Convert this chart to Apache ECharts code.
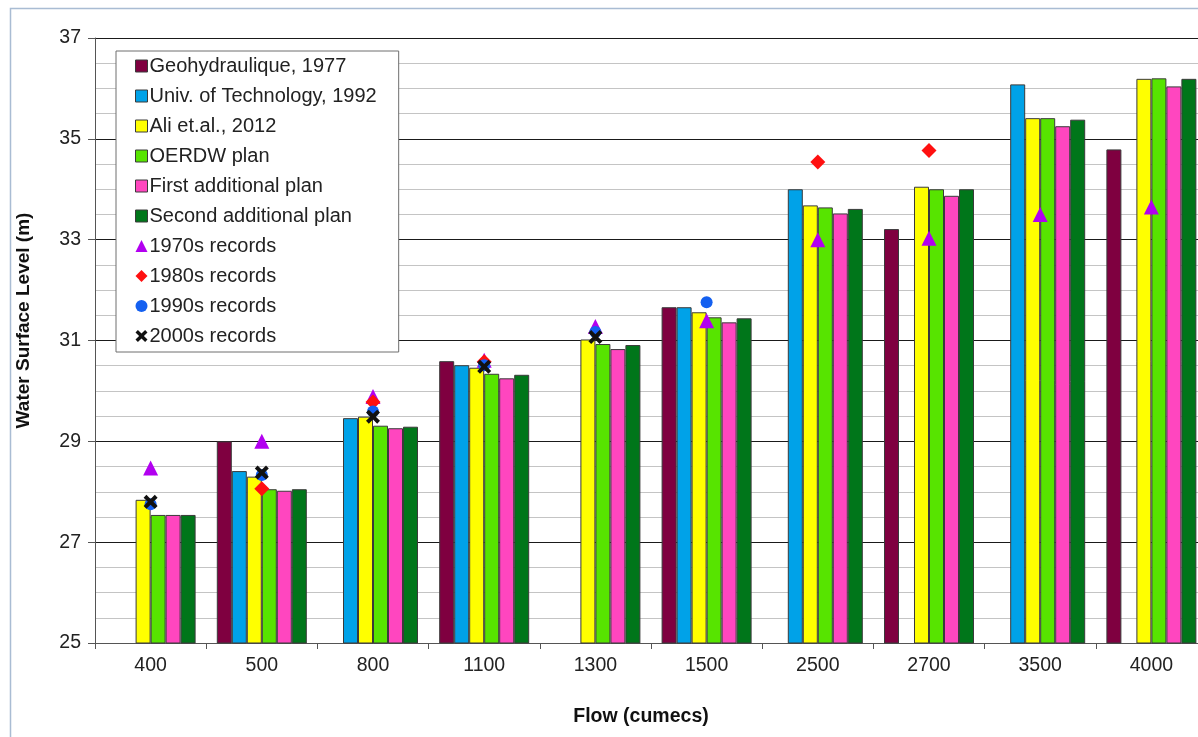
<!DOCTYPE html>
<html>
<head>
<meta charset="utf-8">
<script src="https://cdn.jsdelivr.net/npm/echarts@6/dist/echarts.min.js"></script>
<style>
html,body{margin:0;padding:0;background:#fff;overflow:hidden;width:1198px;height:737px;}
#main{width:1210px;height:737px;}
</style>
</head>
<body>
<div id="main"></div>
<script>
var categories = ['400','500','800','1100','1300','1500','2500','2700','3500','4000'];
var geo1977   = [null, 29.0, null, 30.59, null, 31.66, null, 33.21, null, 34.79];
var univ1992  = [null, 28.41, 29.46, 30.51, null, 31.66, 34.0, null, 36.08, null];
var ali2012   = [27.84, 28.30, 29.49, 30.46, 31.02, 31.56, 33.68, 34.05, 35.41, 36.19];
var oerdw     = [27.54, 28.05, 29.31, 30.34, 30.93, 31.46, 33.64, 34.0, 35.41, 36.2];
var firstPlan = [27.54, 28.02, 29.26, 30.25, 30.83, 31.36, 33.52, 33.87, 35.25, 36.04];
var secondPlan= [27.54, 28.05, 29.29, 30.32, 30.91, 31.44, 33.61, 34.0, 35.38, 36.19];
var rec1970 = [28.47, 29.0, 29.89, 30.61, 31.28, 31.39, 33.0, 33.03, 33.5, 33.65];
var rec1980 = [null, 28.06, 29.78, 30.58, null, null, 34.54, 34.77, null, null];
var rec1990 = [27.75, 28.33, 29.59, 30.51, 31.17, 31.76, null, null, null, null];
var rec2000 = [27.8, 28.38, 29.49, 30.48, 31.07, null, null, null, null, null];

var FONT = '"Liberation Sans", Arial, sans-serif';
var xPath = 'path://M0,2 L2,0 L5,3 L8,0 L10,2 L7,5 L10,8 L8,10 L5,7 L2,10 L0,8 L3,5 Z';

function barSeries(name, data, color) {
  return {
    name: name, type: 'bar', data: data, barWidth: 15, barGap: '0%',
    itemStyle: { color: color, borderColor: '#3a3a3a', borderWidth: 1 },
    emphasis: { disabled: true }
  };
}
function scatterSeries(name, data, color, symbol, size) {
  return {
    name: name, type: 'scatter', data: data, symbol: symbol, symbolSize: size,
    itemStyle: { color: color, opacity: 1 }, z: 5,
    emphasis: { disabled: true }
  };
}
var legBar = { borderColor: '#3a3a3a', borderWidth: 1 };

var chart = echarts.init(document.getElementById('main'), null, { renderer: 'canvas' });
chart.setOption({
  animation: false,
  backgroundColor: '#ffffff',
  textStyle: { fontFamily: FONT },
  graphic: [{
    type: 'rect', left: 8, top: 6, shape: { width: 1300, height: 800 },
    style: { fill: 'none', stroke: '#a9bcd3', lineWidth: 1.5 }, silent: true, z: -10
  }],
  grid: { left: 95, top: 38, right: 3, bottom: 94, containLabel: false },
  legend: {
    orient: 'vertical', left: 116, top: 51,
    backgroundColor: '#ffffff', borderColor: '#6e6e6e', borderWidth: 1,
    padding: [5, 22, 6, 19], itemGap: 10, itemWidth: 12, itemHeight: 12,
    textStyle: { fontFamily: FONT, fontSize: 20, color: '#222', lineHeight: 20, padding: [0, 0, 0, -3] },
    data: [
      { name: 'Geohydraulique, 1977', icon: 'rect', itemStyle: legBar },
      { name: 'Univ. of Technology, 1992', icon: 'rect', itemStyle: legBar },
      { name: 'Ali et.al., 2012', icon: 'rect', itemStyle: legBar },
      { name: 'OERDW plan', icon: 'rect', itemStyle: legBar },
      { name: 'First additional plan', icon: 'rect', itemStyle: legBar },
      { name: 'Second additional plan', icon: 'rect', itemStyle: legBar },
      { name: '1970s records', icon: 'triangle' },
      { name: '1980s records', icon: 'diamond' },
      { name: '1990s records', icon: 'circle' },
      { name: '2000s records', icon: xPath }
    ],
    selectedMode: false
  },
  xAxis: {
    type: 'category', data: categories,
    name: 'Flow (cumecs)', nameLocation: 'middle', nameGap: 64,
    nameTextStyle: { fontFamily: FONT, fontSize: 19.5, fontWeight: 'bold', color: '#111', padding: [0, 20, 0, 0] },
    axisLine: { lineStyle: { color: '#555', width: 1 } },
    axisTick: { show: true, length: 6, lineStyle: { color: '#555' } },
    axisLabel: { fontFamily: FONT, fontSize: 19.5, color: '#222', margin: 13 },
    splitLine: { show: false }
  },
  yAxis: {
    type: 'value', min: 25, max: 37, interval: 2,
    name: 'Water Surface Level (m)', nameLocation: 'middle', nameGap: 62, nameRotate: 90,
    nameTextStyle: { fontFamily: FONT, fontSize: 19, fontWeight: 'bold', color: '#111', padding: [0, 0, 0, 40] },
    axisLine: { show: true, lineStyle: { color: '#555', width: 1 } },
    axisTick: { show: true, length: 7, lineStyle: { color: '#555' } },
    axisLabel: { fontFamily: FONT, fontSize: 19.5, color: '#222', margin: 14 },
    splitLine: { show: true, lineStyle: { color: '#1a1a1a', width: 1 } },
    minorTick: { show: false, splitNumber: 4 },
    minorSplitLine: { show: true, lineStyle: { color: '#c4c4c4', width: 1 } }
  },
  series: [
    barSeries('Geohydraulique, 1977', geo1977, '#7f0040'),
    barSeries('Univ. of Technology, 1992', univ1992, '#00a2e8'),
    barSeries('Ali et.al., 2012', ali2012, '#ffff00'),
    barSeries('OERDW plan', oerdw, '#57e400'),
    barSeries('First additional plan', firstPlan, '#ff46bf'),
    barSeries('Second additional plan', secondPlan, '#00761a'),
    scatterSeries('1970s records', rec1970, '#b200f0', 'triangle', 15),
    scatterSeries('1980s records', rec1980, '#ff1010', 'diamond', 15),
    scatterSeries('1990s records', rec1990, '#1460f0', 'circle', 12),
    scatterSeries('2000s records', rec2000, '#111111', xPath, 14)
  ]
});
</script>
</body>
</html>
